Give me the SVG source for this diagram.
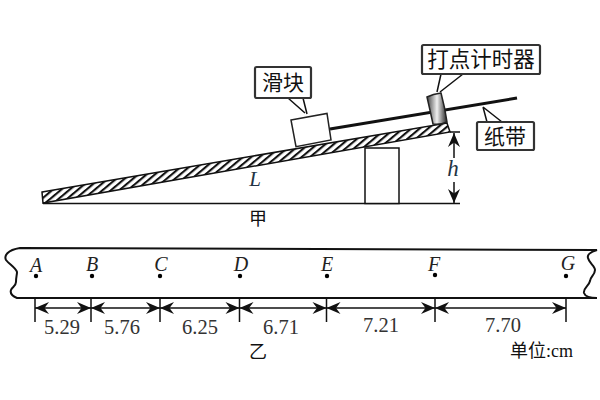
<svg xmlns="http://www.w3.org/2000/svg" width="600" height="400" viewBox="0 0 600 400">
<style>
.ln{fill:none;stroke:#111;stroke-width:1.5}
.lb{fill:#fff;stroke:#333;stroke-width:2.200}
.cjk{font-family:"Noto Sans CJK SC","Noto Sans",sans-serif;fill:#111;text-anchor:middle}
.num{font-family:"Liberation Serif",serif;font-size:20.500px;fill:#333;text-anchor:middle}
.it{font-family:"Liberation Serif",serif;font-style:italic;font-size:20px;fill:#222;text-anchor:middle}
</style>
<defs>
<pattern id="hatch" width="5.400" height="5.400" patternUnits="userSpaceOnUse" patternTransform="rotate(50)">
<rect width="5.400" height="5.400" fill="#fff"/>
<rect width="2.100" height="5.400" fill="#111"/>
</pattern>
<linearGradient id="cyl" x1="0" y1="0" x2="1" y2="0">
<stop offset="0" stop-color="#444"/>
<stop offset=".5" stop-color="#f0f0f0"/>
<stop offset="1" stop-color="#222"/>
</linearGradient>
<marker id="ah" markerUnits="userSpaceOnUse" markerWidth="18" markerHeight="16" refX="15" refY="8" orient="auto-start-reverse">
<path d="M1 2L15 8L1 14L5.500 8Z" fill="#111"/>
</marker>
</defs>
<g id="incline">
<path d="M42 192L447 123L450 132L43 203Z" fill="url(#hatch)" stroke="#111" stroke-width="1.500"/>
</g>
<g id="base">
<path class="ln" d="M43 203.500H460"/>
<rect x="365" y="148" width="34" height="55.500" fill="#fff" stroke="#111" stroke-width="1.500"/>
</g>
<g id="tape-paper">
<path d="M330 129L517 98" fill="none" stroke="#111" stroke-width="3"/>
</g>
<g id="slider">
<path d="M291 120L327 113.500L331 140L296 146.700Z" fill="#fff" stroke="#222" stroke-width="1.500"/>
</g>
<g id="timer">
<path d="M427 97Q433 94 441 93Q445 108 447 122Q440 125 433 124Q430 110 427 97Z" fill="url(#cyl)" stroke="#222" stroke-width="1.500"/>
</g>
<g id="label-slider">
<path class="ln" d="M288 98L305 113M303 98L307 114"/>
<rect class="lb" x="255" y="67" width="56" height="31" rx="1.500"/>
<text class="cjk" x="283" y="90" font-size="21">滑块</text>
</g>
<g id="label-timer">
<path class="ln" d="M441 74L437 92M463 74L440 92"/>
<rect class="lb" x="422" y="45" width="118" height="29" rx="1.500"/>
<text class="cjk" x="481" y="67" font-size="21.500">打点计时器</text>
</g>
<g id="label-paper">
<path class="ln" d="M483 107L502 122M483 107L487 122"/>
<rect class="lb" x="477" y="122" width="57" height="28" rx="1.500"/>
<text class="cjk" x="505" y="144" font-size="21">纸带</text>
</g>
<g id="dim-h">
<path class="ln" d="M450 132H460"/>
<path class="ln" d="M454 158V133" marker-end="url(#ah)"/>
<path class="ln" d="M454 182V203" marker-end="url(#ah)"/>
<text x="453" y="176" font-family="Liberation Serif,serif" font-style="italic" font-size="23" fill="#234" text-anchor="middle">h</text>
</g>
<text x="255" y="186" font-family="Liberation Serif,serif" font-style="italic" font-size="21" fill="#234" text-anchor="middle">L</text>
<text class="cjk" x="258" y="225" font-size="18">甲</text>
<g id="tape">
<path d="M20 248L597 250C590 252 587 255 588 258C589 263 595 266 595 270C595 275 590 277 590 281C589 286 583 288 584 293C585 296 590 298 597 298L17 298C12 296 10 293 11 290C12 287 16 286 16 282C16 277 17 275 17 272C16 268 9 264 6 260C4 256 7 250 20 248Z" fill="none" stroke="#111" stroke-width="2"/>
</g>
<g id="points">
<circle cx="36" cy="276" r="2.200"/><circle cx="92" cy="276" r="2.200"/><circle cx="160" cy="276" r="2.200"/><circle cx="240" cy="276" r="2.200"/><circle cx="327" cy="276" r="2.200"/><circle cx="435" cy="275" r="2.200"/><circle cx="566" cy="276" r="2.200"/>
<text class="it" x="36" y="272">A</text><text class="it" x="92" y="271">B</text><text class="it" x="161" y="271">C</text><text class="it" x="241" y="271">D</text><text class="it" x="327" y="271">E</text><text class="it" x="434" y="271">F</text><text class="it" x="568" y="270">G</text>
</g>
<g id="connectors">
<path class="ln" d="M35 298V322M91 298V322M160 298V322M239.500 298V322M326.500 298V322M435 298V322M566 298V322"/>
<path class="ln" d="M35 308H91" marker-start="url(#ah)" marker-end="url(#ah)"/>
<path class="ln" d="M91 308H160" marker-start="url(#ah)" marker-end="url(#ah)"/>
<path class="ln" d="M160 308H239.500" marker-start="url(#ah)" marker-end="url(#ah)"/>
<path class="ln" d="M239.500 308H326.500" marker-start="url(#ah)" marker-end="url(#ah)"/>
<path class="ln" d="M326.500 308H435" marker-start="url(#ah)" marker-end="url(#ah)"/>
<path class="ln" d="M435 308H566" marker-start="url(#ah)" marker-end="url(#ah)"/>
</g>
<g id="values">
<text class="num" x="62" y="334">5.29</text><text class="num" x="122" y="334">5.76</text><text class="num" x="200" y="334">6.25</text><text class="num" x="281" y="334">6.71</text><text class="num" x="381" y="332">7.21</text><text class="num" x="503" y="332">7.70</text>
</g>
<text class="cjk" x="258" y="358" font-size="18">乙</text>
<text x="510" y="357" font-family="Noto Sans CJK SC,sans-serif" font-size="18" fill="#111">单位<tspan font-family="Liberation Serif,serif" font-size="18">:cm</tspan></text>
</svg>
